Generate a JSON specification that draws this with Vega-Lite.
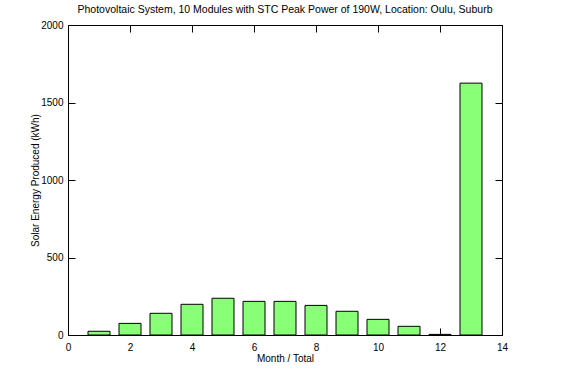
{
  "$schema": "https://vega.github.io/schema/vega-lite/v6.json",
  "autosize": {"type": "none"},
  "width": 434,
  "height": 310,
  "padding": {"left": 68, "top": 25, "right": 85, "bottom": 48},
  "background": "white",
  "title": {"text": "Photovoltaic System, 10 Modules with STC Peak Power of 190W, Location: Oulu, Suburb", "font": "Liberation Sans", "fontSize": 10.5, "fontWeight": "normal", "color": "black", "offset": 5, "anchor": "middle"},
  "config": {
    "view": {"stroke": "black", "strokeWidth": 1},
    "axis": {"grid": false, "domain": false, "tickColor": "black", "tickSize": -7, "labelFlush": false, "labelFont": "Liberation Sans", "labelFontSize": 10, "labelColor": "black", "titleFont": "Liberation Sans", "titleFontSize": 10, "titleFontWeight": "normal", "titleColor": "black"}
  },
  "data": {"values": [
    {"month": 1, "energy": 24},
    {"month": 2, "energy": 75},
    {"month": 3, "energy": 140},
    {"month": 4, "energy": 198},
    {"month": 5, "energy": 237},
    {"month": 6, "energy": 217},
    {"month": 7, "energy": 217},
    {"month": 8, "energy": 191},
    {"month": 9, "energy": 153},
    {"month": 10, "energy": 101},
    {"month": 11, "energy": 56},
    {"month": 12, "energy": 4},
    {"month": 13, "energy": 1625}
  ]},
  "layer": [
    {
      "mark": {"type": "bar", "size": 22, "fill": "#88ff77", "stroke": "black", "strokeWidth": 1},
      "encoding": {
        "x": {"field": "month", "type": "quantitative", "scale": {"domain": [0, 14], "nice": false, "padding": 0}, "axis": {"values": [0, 2, 4, 6, 8, 10, 12, 14], "format": "d", "title": "Month / Total", "labelPadding": 14, "titlePadding": 1}},
        "y": {"field": "energy", "type": "quantitative", "scale": {"domain": [0, 2000], "nice": false, "padding": 0}, "axis": {"values": [0, 500, 1000, 1500, 2000], "format": "d", "title": "Solar Energy Produced (kWh)", "labelPadding": 12, "titlePadding": 0}}
      }
    },
    {
      "mark": {"type": "point", "opacity": 0},
      "encoding": {
        "x": {"field": "month", "type": "quantitative", "scale": {"domain": [0, 14], "nice": false, "padding": 0}, "axis": {"orient": "top", "values": [0, 2, 4, 6, 8, 10, 12, 14], "labels": false, "title": null}},
        "y": {"field": "energy", "type": "quantitative", "scale": {"domain": [0, 2000], "nice": false, "padding": 0}, "axis": {"orient": "right", "values": [0, 500, 1000, 1500, 2000], "labels": false, "title": null}}
      }
    }
  ],
  "resolve": {"axis": {"x": "independent", "y": "independent"}}
}
